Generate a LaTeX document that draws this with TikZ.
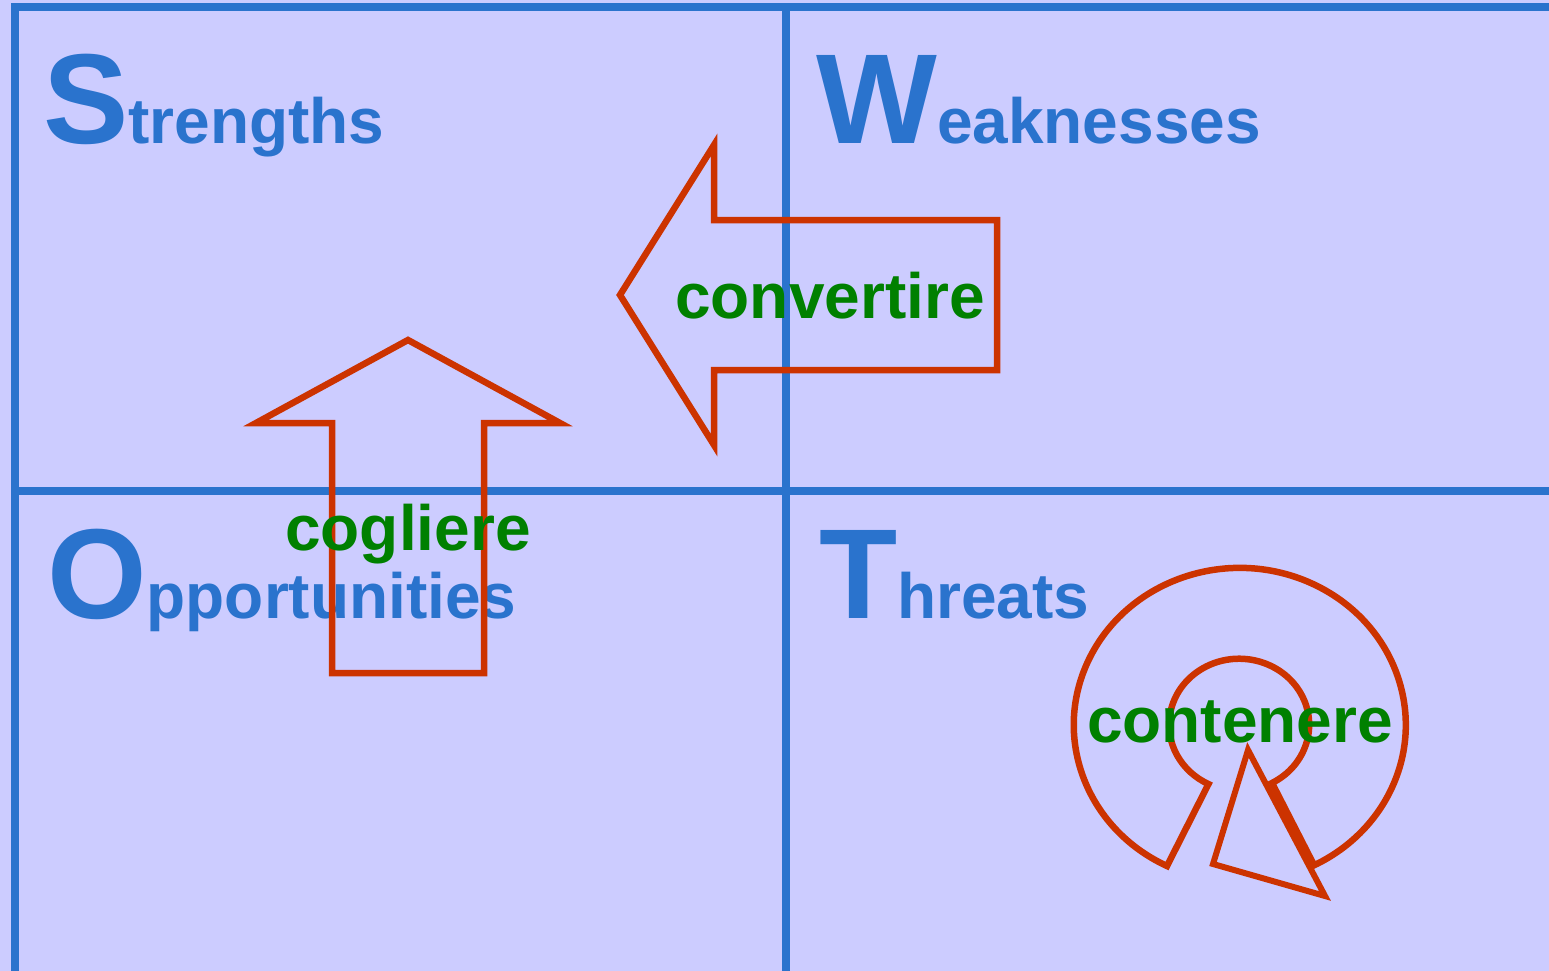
\documentclass[tikz,border=0pt]{standalone}
\usepackage{fontspec}
\setmainfont{Liberation Sans}
\definecolor{swotbg}{HTML}{CCCCFF}
\definecolor{swotblue}{RGB}{42,115,205}
\definecolor{swotred}{HTML}{CC3300}
\definecolor{swotgreen}{HTML}{008000}
\newcommand{\capfont}{\fontsize{128}{128}\selectfont}
\newcommand{\wordfont}{\fontsize{64}{64}\selectfont}
\tikzset{
  gridline/.style={draw=swotblue, line width=7.5pt, line join=miter},
  quadlabel/.style={anchor=base west, inner sep=0pt, text=swotblue, font=\bfseries},
  actionarrow/.style={draw=swotred, line width=6.5pt, line join=miter, miter limit=20},
  actionlabel/.style={anchor=base, inner sep=0pt, text=swotgreen, font=\bfseries\wordfont},
}
\begin{document}
\begin{tikzpicture}[x=1pt, y=-1pt]
  % background and page frame
  \fill[swotbg] (0,0) rectangle (1549,971);
  \useasboundingbox (0,0) rectangle (1549,971);

  % quadrant grid
  \draw[gridline] (15,971) -- (15,7) -- (1549,7);
  \draw[gridline] (786,7) -- (786,971);
  \draw[gridline] (15,491) -- (1549,491);

  % quadrant titles
  \node[quadlabel] (strengths) at (43,143) {{\capfont S}{\wordfont trengths}};
  \node[quadlabel] (weaknesses) at (816,143) {{\capfont W}{\wordfont eaknesses}};
  \node[quadlabel] (opportunities) at (47,618) {{\capfont O}{\wordfont pportunities}};
  \node[quadlabel] (threats) at (819,618) {{\capfont T}{\wordfont hreats}};

  % block arrow pointing left (weaknesses -> strengths)
  \draw[actionarrow] (620,295) -- (714,145) -- (714,220) -- (997,220)
    -- (997,370) -- (714,370) -- (714,445) -- cycle;

  % block arrow pointing up (opportunities -> strengths)
  \draw[actionarrow] (408,340) -- (560,423) -- (484,423) -- (484,673)
    -- (332,673) -- (332,423) -- (256,423) -- cycle;

  % ring-shaped arrow in the threats quadrant
  \draw[actionarrow] (1167,866)
    arc[start angle=116, end angle=423.4, x radius=166, y radius=157]
    -- (1272,783)
    arc[start angle=62, end angle=-244, x radius=70, y radius=66]
    -- cycle;
  \draw[actionarrow, line width=6pt] (1248,750) -- (1325,896) -- (1213,864) -- cycle;

  % action labels
  \node[actionlabel] (convertire) at (830,318) {convertire};
  \node[actionlabel] (cogliere) at (408,550) {cogliere};
  \node[actionlabel] (contenere) at (1240,742) {contenere};
\end{tikzpicture}
\end{document}
